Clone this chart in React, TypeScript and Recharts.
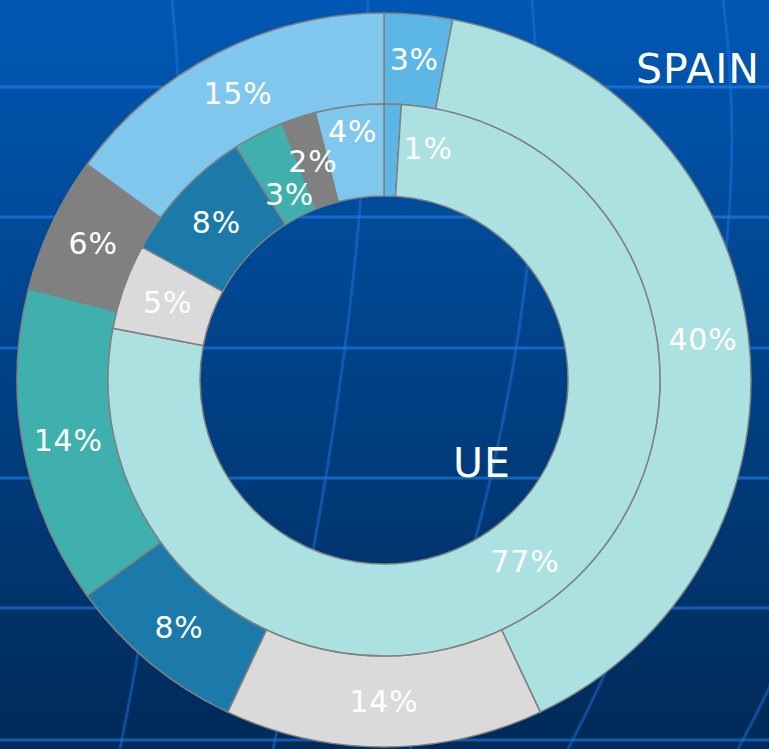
import { PieChart, Pie, Cell } from 'recharts'

// categorias (sem nome no slide original, só as cores)
const categorias = ['Cat 1', 'Cat 2', 'Cat 3', 'Cat 4', 'Cat 5', 'Cat 6', 'Cat 7']
const valoresSpain = [3, 40, 14, 8, 14, 6, 15]
const valoresUE = [1, 77, 5, 8, 3, 2, 4]

const COLORS = ['#5cb6e6', '#abe1e1', '#dadada', '#1b7aaa', '#40b0af', '#808080', '#7fc7ec']

const dataSpain = categorias.map((c, i) => ({ name: c, value: valoresSpain[i] }))
const dataUE = categorias.map((c, i) => ({ name: c, value: valoresUE[i] }))

const W = 769
const H = 749
const RAD = Math.PI / 180
const FONT = '"DejaVu Sans", Verdana, sans-serif'

// pequenos ajustes nos rótulos do anel interno que se sobrepõem
const ajusteUE: Record<number, { da: number; dr: number }> = {
  0: { da: -9, dr: 6 },
  4: { da: 0, dr: -22 },
  6: { da: 0, dr: 20 },
}

function makeLabel(ajustes: Record<number, { da: number; dr: number }>) {
  return (props: any) => {
    const { cx, cy, midAngle, innerRadius, outerRadius, value, index } = props
    const adj = ajustes[index] || { da: 0, dr: 0 }
    const r = (innerRadius + outerRadius) / 2 + adj.dr
    const a = (midAngle + adj.da) * RAD
    const x = cx + r * Math.cos(-a)
    const y = cy + r * Math.sin(-a)
    return (
      <text
        x={x}
        y={y}
        fill="#fff"
        textAnchor="middle"
        dominantBaseline="central"
        fontFamily={FONT}
        fontSize={30}
        letterSpacing={0.8}
      >
        {value}%
      </text>
    )
  }
}

function Fundo() {
  const claro = 'rgba(40,140,255,0.5)'
  return (
    <svg width={W} height={H} style={{ position: 'absolute', left: 0, top: 0 }}>
      <defs>
        <linearGradient id="bg" x1="0" y1="0" x2="0" y2="1">
          <stop offset="0%" stopColor="#0058b4" />
          <stop offset="100%" stopColor="#002a58" />
        </linearGradient>
      </defs>
      <rect width={W} height={H} fill="url(#bg)" />
      {[87, 217, 348, 478, 608, 740].map(y => (
        <line key={y} x1={0} x2={W} y1={y} y2={y} stroke={claro} strokeWidth={3} />
      ))}
      <g fill="none" stroke="rgba(30,120,230,0.45)" strokeWidth={3}>
        <path d="M172,0 Q205,330 120,749" />
        <path d="M368,0 Q372,300 273,749" />
        <path d="M532,0 Q560,330 410,749" />
        <path d="M723,0 Q770,360 568,749" />
        <path d="M790,640 Q770,690 738,749" />
      </g>
    </svg>
  )
}

export default function App() {
  return (
    <div style={{ position: 'absolute', left: 0, top: 0, width: W, height: H, overflow: 'hidden' }}>
      <Fundo />
      <div style={{ position: 'absolute', left: 0, top: 0 }}>
        <PieChart width={W} height={H} margin={{ top: 0, right: 0, bottom: 0, left: 0 }}>
          <Pie
            data={dataSpain}
            dataKey="value"
            nameKey="name"
            cx={384}
            cy={380}
            innerRadius={276}
            outerRadius={367}
            startAngle={90}
            endAngle={-270}
            stroke="#808080"
            strokeWidth={1.5}
            label={makeLabel({})}
            labelLine={false}
            isAnimationActive={false}
          >
            {dataSpain.map((_, i) => (
              <Cell key={i} fill={COLORS[i % COLORS.length]} />
            ))}
          </Pie>
          <Pie
            data={dataUE}
            dataKey="value"
            nameKey="name"
            cx={384}
            cy={380}
            innerRadius={184}
            outerRadius={276}
            startAngle={90}
            endAngle={-270}
            stroke="#808080"
            strokeWidth={1.5}
            label={makeLabel(ajusteUE)}
            labelLine={false}
            isAnimationActive={false}
          >
            {dataUE.map((_, i) => (
              <Cell key={i} fill={COLORS[i % COLORS.length]} />
            ))}
          </Pie>
        </PieChart>
      </div>
      <svg width={W} height={H} style={{ position: 'absolute', left: 0, top: 0, pointerEvents: 'none' }}>
        <text x={636} y={83} fill="#fff" fontFamily={FONT} fontSize={41} letterSpacing={1}>
          SPAIN
        </text>
        <text x={453} y={477} fill="#fff" fontFamily={FONT} fontSize={41} letterSpacing={1}>
          UE
        </text>
      </svg>
    </div>
  )
}
